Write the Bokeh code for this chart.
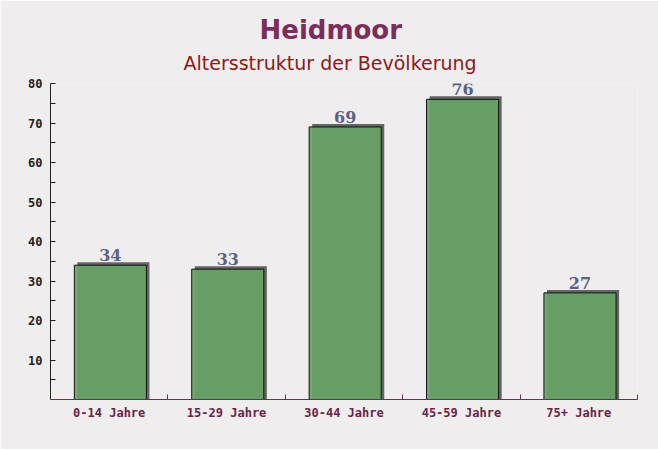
from bokeh.plotting import figure
from bokeh.models import Range1d, FixedTicker, Title, ColumnDataSource
from bokeh.embed import file_html
from bokeh.resources import INLINE

categories = ["0-14 Jahre", "15-29 Jahre", "30-44 Jahre", "45-59 Jahre", "75+ Jahre"]
values = [34, 33, 69, 76, 27]
y_ticks = [10, 20, 30, 40, 50, 60, 70, 80]

n = len(categories)
centers = [i + 0.51 for i in range(n)]
half = 0.307
src = ColumnDataSource(dict(
    left=[c - half for c in centers],
    right=[c + half for c in centers],
    sleft=[c - half + 0.026 for c in centers],
    sright=[c + half + 0.026 for c in centers],
    top=values,
    stop=[v + 0.75 for v in values],
    cx=centers,
    label=[str(v) for v in values],
))

p = figure(width=658, height=449, output_backend="svg", toolbar_location=None,
           x_range=Range1d(0, n), y_range=Range1d(0, 80),
           min_border_left=50, min_border_right=21, min_border_bottom=50, min_border_top=83)

bg = "#efedee"
p.background_fill_color = bg
p.border_fill_color = bg
p.outline_line_color = None
p.grid.visible = False

p.title.text = "Heidmoor"
p.title.text_font = "DejaVu Sans"
p.title.text_font_size = "26px"
p.title.text_font_style = "bold"
p.title.text_color = "#7b2d5b"
p.title.align = "left"
p.title.offset = 209
p.title.standoff = -10
p.add_layout(Title(text="Altersstruktur der Bevölkerung", text_font="DejaVu Sans",
                   text_font_size="19px", text_font_style="normal",
                   text_color="#8b1a1a", align="left", offset=133, standoff=20), "above")

# shadows
p.quad(left="sleft", right="sright", bottom=0, top="stop", source=src,
       fill_color="#555555", line_color=None, fill_alpha=0.9)
# bars
p.quad(left="left", right="right", bottom=0, top="top", source=src,
       fill_color="#66a366", fill_alpha=0.92, line_color="#111111", line_width=1)
# value labels
p.text(x="cx", y="top", text="label", source=src, text_align="center",
       text_baseline="bottom", y_offset=-4, text_font_size="16px",
       text_font_style="bold", text_color="#5a6284", text_font={"value": "DejaVu Serif"})

# y axis
p.yaxis.ticker = FixedTicker(ticks=y_ticks, minor_ticks=[5, 15, 25, 35, 45, 55, 65, 75])
p.yaxis.major_tick_in = 5
p.yaxis.major_tick_out = 0
p.yaxis.minor_tick_in = 5
p.yaxis.minor_tick_out = 0
p.yaxis.axis_line_color = "#222222"
p.yaxis.major_tick_line_color = "#222222"
p.yaxis.minor_tick_line_color = "#222222"
p.yaxis.major_label_text_font = "DejaVu Sans Mono"
p.yaxis.major_label_text_font_style = "bold"
p.yaxis.major_label_text_font_size = "12px"
p.yaxis.major_label_text_color = "#222222"
p.yaxis.major_label_standoff = 8

# x axis
p.xaxis.ticker = FixedTicker(ticks=[i + 0.5 for i in range(n)], minor_ticks=list(range(1, n + 1)))
p.xaxis.major_label_overrides = {i + 0.5: c for i, c in enumerate(categories)}
p.xaxis.major_tick_in = 0
p.xaxis.major_tick_out = 0
p.xaxis.minor_tick_in = 5
p.xaxis.minor_tick_out = 0
p.xaxis.axis_line_color = "#6b3050"
p.xaxis.minor_tick_line_color = "#6b3050"
p.xaxis.major_label_text_font = "DejaVu Sans Mono"
p.xaxis.major_label_text_font_style = "bold"
p.xaxis.major_label_text_font_size = "12px"
p.xaxis.major_label_text_color = "#6b2346"
p.xaxis.major_label_standoff = 6

open("out.html", "w").write(file_html(p, INLINE))
